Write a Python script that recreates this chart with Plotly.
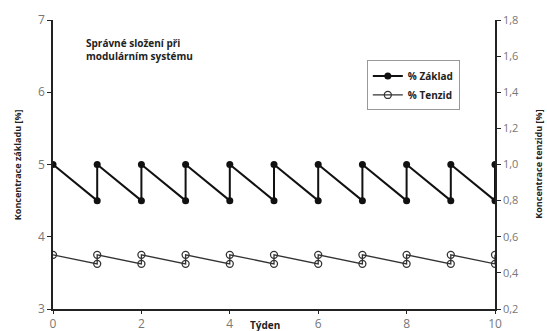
import plotly.graph_objects as go

tyden = [0, 1, 1, 2, 2, 3, 3, 4, 4, 5, 5, 6, 6, 7, 7, 8, 8, 9, 9, 10, 10]
zaklad = [5, 4.5, 5, 4.5, 5, 4.5, 5, 4.5, 5, 4.5, 5, 4.5, 5, 4.5, 5, 4.5, 5, 4.5, 5, 4.5, 5]
tenzid = [0.5, 0.45, 0.5, 0.45, 0.5, 0.45, 0.5, 0.45, 0.5, 0.45, 0.5, 0.45, 0.5, 0.45, 0.5, 0.45, 0.5, 0.45, 0.5, 0.45, 0.5]

x_ticks = [0, 2, 4, 6, 8, 10]
y1_ticks = [3, 4, 5, 6, 7]
y2_ticks = [0.2, 0.4, 0.6, 0.8, 1.0, 1.2, 1.4, 1.6, 1.8]

font = "Open Sans, DejaVu Sans, sans-serif"
fig = go.Figure()
fig.add_trace(go.Scatter(x=tyden, y=zaklad, mode="lines+markers", name="<b>% Základ</b>",
                         line=dict(color="#111", width=2),
                         marker=dict(symbol="circle", size=7, color="#111")))
fig.add_trace(go.Scatter(x=tyden, y=tenzid, mode="lines+markers", name="<b>% Tenzid</b>", yaxis="y2",
                         line=dict(color="#333", width=1.3),
                         marker=dict(symbol="circle-open", size=7, color="#333", line=dict(width=1.3))))

fig.update_layout(
    width=547, height=331,
    margin=dict(l=53, r=52, t=20, b=22, autoexpand=False),
    plot_bgcolor="white", paper_bgcolor="white",
    font=dict(family=font, size=11, color="#777"),
    showlegend=True,
    legend=dict(x=0.71, y=0.86, xanchor="left", yanchor="top",
                bordercolor="#999", borderwidth=1, bgcolor="white",
                font=dict(size=10, color="#222", family=font),
                tracegroupgap=0, itemwidth=30),
    xaxis=dict(range=[0, 10], tickvals=x_ticks, ticks="outside", ticklen=3, automargin=False,
               showline=True, linecolor="#222", linewidth=1.5, showgrid=False,
               zeroline=False, tickcolor="#222", tickfont=dict(size=12)),
    yaxis=dict(range=[3, 7], tickvals=y1_ticks, ticks="outside", ticklen=4, automargin=False,
               showline=True, linecolor="#222", linewidth=1.5, showgrid=False,
               zeroline=False, tickcolor="#222", tickfont=dict(size=12)),
    yaxis2=dict(range=[0.2, 1.8], tickvals=y2_ticks, ticktext=[f"{v:.1f}".replace(".", ",") for v in y2_ticks],
                overlaying="y", side="right", ticks="outside", ticklen=4, automargin=False,
                showline=True, linecolor="#222", linewidth=1.5, showgrid=False,
                zeroline=False, tickcolor="#222"),
)

fig.add_annotation(xref="paper", yref="paper", x=0.07, y=0.95, xanchor="left", yanchor="top",
                   text="<b>Správné složení při<br>modulárním systému</b>", showarrow=False, align="left",
                   font=dict(size=10, color="#222", family=font))
fig.add_annotation(xref="paper", yref="paper", x=0.48, y=-0.025, xanchor="center", yanchor="top",
                   text="<b>Týden</b>", showarrow=False, font=dict(size=10, color="#222", family=font))
fig.add_annotation(xref="paper", yref="paper", x=-0.08, y=0.5, xanchor="center", yanchor="middle",
                   text="<b>Koncentrace základu [%]</b>", showarrow=False, textangle=-90,
                   font=dict(size=9, color="#222", family=font))
fig.add_annotation(xref="paper", yref="paper", x=1.117, y=0.5, xanchor="right", yanchor="middle",
                   text="<b>Koncentrace tenzidu [%]</b>", showarrow=False, textangle=-90,
                   font=dict(size=9, color="#222", family=font))

fig.write_html("out.html")
